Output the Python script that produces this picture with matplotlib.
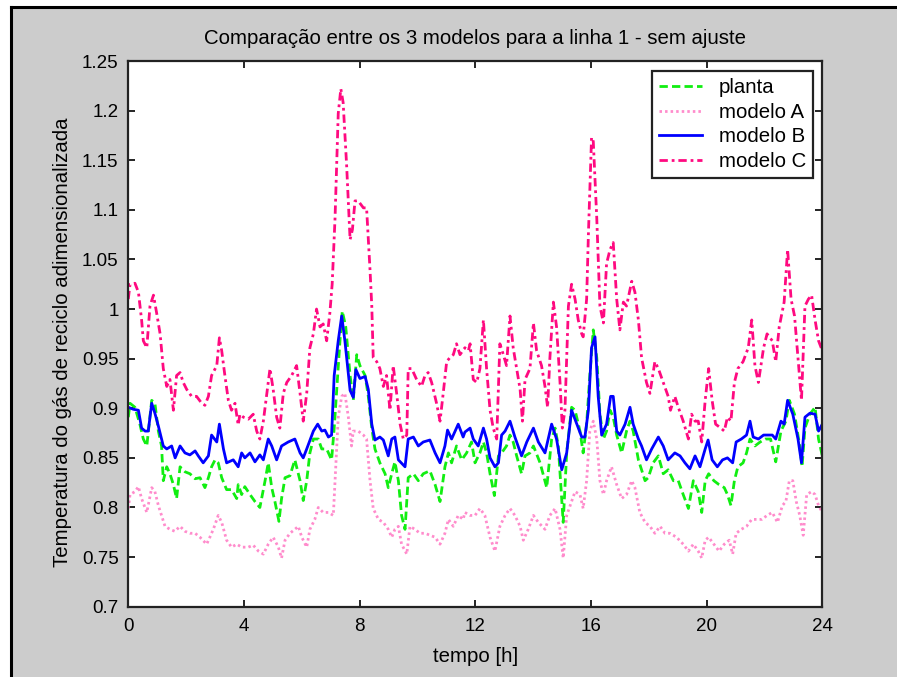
import matplotlib
matplotlib.use("Agg")
import matplotlib.pyplot as plt
from matplotlib.patches import Rectangle
from matplotlib.lines import Line2D

plt.rcParams['font.family'] = ['Liberation Sans', 'DejaVu Sans']

# ---------------- data ----------------
t_planta = [0.0, 0.06, 0.23, 0.40, 0.52, 0.64, 0.81, 0.92, 1.04, 1.15, 1.21, 1.33, 1.44, 1.56, 1.67, 1.79,
            1.96, 2.13, 2.31, 2.48, 2.65, 2.77, 2.88, 3.00, 3.11, 3.23, 3.40, 3.57, 3.75, 3.80, 3.92, 4.03,
            4.21, 4.38, 4.55, 4.73, 4.84, 4.96, 5.07, 5.21, 5.30, 5.42, 5.59, 5.76, 5.94, 6.05, 6.17, 6.28,
            6.40, 6.57, 6.69, 6.86, 7.03, 7.12, 7.20, 7.32, 7.40, 7.52, 7.67, 7.78, 7.90, 8.01, 8.19, 8.30,
            8.42, 8.53, 8.70, 8.88, 8.99, 9.11, 9.22, 9.34, 9.45, 9.57, 9.68, 9.86, 10.03, 10.20, 10.43,
            10.61, 10.78, 10.95, 11.07, 11.18, 11.35, 11.53, 11.70, 11.76, 11.87, 11.99, 12.16, 12.28,
            12.39, 12.51, 12.66, 12.80, 12.91, 13.08, 13.20, 13.31, 13.43, 13.60, 13.72, 13.89, 14.01,
            14.24, 14.47, 14.64, 14.76, 14.87, 15.04, 15.16, 15.33, 15.45, 15.62, 15.73, 15.85, 15.96,
            16.08, 16.20, 16.31, 16.43, 16.54, 16.66, 16.77, 16.89, 17.06, 17.23, 17.35, 17.46, 17.64,
            17.75, 17.87, 17.98, 18.15, 18.33, 18.50, 18.67, 18.85, 19.02, 19.19, 19.37, 19.54, 19.71,
            19.83, 19.95, 20.07, 20.25, 20.43, 20.61, 20.72, 20.84, 20.96, 21.08, 21.26, 21.38, 21.50,
            21.67, 21.85, 22.03, 22.21, 22.39, 22.57, 22.74, 22.86, 23.04, 23.22, 23.30, 23.40, 23.57,
            23.75, 23.87, 24.0]
v_planta = [0.891, 0.905, 0.901, 0.884, 0.869, 0.862, 0.908, 0.905, 0.877, 0.862, 0.827, 0.841, 0.834,
            0.823, 0.809, 0.841, 0.836, 0.834, 0.829, 0.830, 0.820, 0.830, 0.841, 0.848, 0.845, 0.830,
            0.818, 0.818, 0.809, 0.823, 0.813, 0.821, 0.813, 0.806, 0.800, 0.827, 0.845, 0.820, 0.806,
            0.786, 0.809, 0.830, 0.832, 0.848, 0.827, 0.807, 0.827, 0.855, 0.869, 0.869, 0.859, 0.859,
            0.848, 0.880, 0.915, 0.968, 0.998, 0.982, 0.933, 0.908, 0.954, 0.943, 0.933, 0.912, 0.880,
            0.859, 0.845, 0.834, 0.820, 0.834, 0.846, 0.827, 0.792, 0.778, 0.830, 0.834, 0.827, 0.834,
            0.837, 0.823, 0.806, 0.841, 0.855, 0.845, 0.862, 0.848, 0.855, 0.859, 0.866, 0.845, 0.855,
            0.866, 0.855, 0.834, 0.812, 0.852, 0.855, 0.862, 0.873, 0.866, 0.852, 0.834, 0.852, 0.855,
            0.862, 0.845, 0.820, 0.869, 0.880, 0.862, 0.785, 0.855, 0.901, 0.898, 0.877, 0.855, 0.884,
            0.933, 0.979, 0.951, 0.894, 0.869, 0.877, 0.898, 0.891, 0.873, 0.855, 0.877, 0.887, 0.877,
            0.848, 0.838, 0.827, 0.830, 0.845, 0.852, 0.834, 0.838, 0.827, 0.827, 0.813, 0.799, 0.827,
            0.816, 0.795, 0.827, 0.834, 0.827, 0.823, 0.820, 0.813, 0.802, 0.827, 0.841, 0.845, 0.855,
            0.869, 0.862, 0.866, 0.869, 0.869, 0.846, 0.877, 0.887, 0.908, 0.894, 0.862, 0.841, 0.880,
            0.894, 0.901, 0.869, 0.852]

t_modelo_a = [0.0, 0.06, 0.23, 0.35, 0.46, 0.64, 0.81, 0.92, 1.04, 1.15, 1.27, 1.44, 1.61, 1.79, 1.96,
              2.13, 2.31, 2.48, 2.71, 2.82, 2.94, 3.11, 3.23, 3.40, 3.57, 3.75, 3.92, 4.15, 4.32, 4.50,
              4.67, 4.84, 5.01, 5.19, 5.30, 5.42, 5.59, 5.76, 5.88, 6.00, 6.17, 6.28, 6.45, 6.57, 6.74,
              6.92, 7.09, 7.15, 7.26, 7.38, 7.49, 7.61, 7.72, 7.78, 7.95, 8.13, 8.24, 8.36, 8.47, 8.65,
              8.82, 8.99, 9.11, 9.22, 9.34, 9.45, 9.63, 9.74, 9.91, 10.09, 10.26, 10.43, 10.61, 10.78,
              10.95, 11.07, 11.24, 11.41, 11.58, 11.64, 11.82, 11.99, 12.16, 12.33, 12.51, 12.68, 12.85,
              13.03, 13.20, 13.37, 13.55, 13.66, 13.83, 14.01, 14.18, 14.41, 14.58, 14.76, 14.93, 15.04,
              15.16, 15.33, 15.45, 15.62, 15.73, 15.85, 15.96, 16.08, 16.20, 16.31, 16.43, 16.54, 16.71,
              16.89, 17.06, 17.23, 17.41, 17.52, 17.69, 17.87, 18.04, 18.21, 18.39, 18.56, 18.73, 18.96,
              19.19, 19.37, 19.54, 19.71, 19.83, 19.95, 20.07, 20.25, 20.43, 20.61, 20.78, 20.90, 21.02,
              21.20, 21.38, 21.56, 21.73, 21.91, 22.09, 22.27, 22.45, 22.62, 22.74, 22.86, 22.98, 23.10,
              23.22, 23.34, 23.46, 23.63, 23.75, 23.87, 24.0]
v_modelo_a = [0.799, 0.813, 0.816, 0.821, 0.809, 0.795, 0.820, 0.816, 0.802, 0.792, 0.781, 0.778, 0.776,
              0.781, 0.776, 0.774, 0.774, 0.770, 0.763, 0.770, 0.778, 0.792, 0.785, 0.767, 0.760, 0.763,
              0.760, 0.760, 0.762, 0.756, 0.753, 0.763, 0.770, 0.760, 0.749, 0.767, 0.774, 0.778, 0.781,
              0.770, 0.760, 0.778, 0.788, 0.800, 0.795, 0.795, 0.792, 0.827, 0.891, 0.912, 0.915, 0.891,
              0.862, 0.877, 0.877, 0.873, 0.869, 0.827, 0.799, 0.788, 0.785, 0.778, 0.770, 0.778, 0.781,
              0.763, 0.753, 0.781, 0.778, 0.774, 0.774, 0.772, 0.770, 0.763, 0.774, 0.788, 0.781, 0.792,
              0.788, 0.795, 0.792, 0.792, 0.799, 0.792, 0.770, 0.756, 0.781, 0.792, 0.799, 0.792, 0.781,
              0.767, 0.778, 0.792, 0.785, 0.778, 0.792, 0.799, 0.778, 0.749, 0.792, 0.806, 0.816, 0.813,
              0.799, 0.827, 0.877, 0.887, 0.869, 0.827, 0.813, 0.827, 0.841, 0.823, 0.809, 0.813, 0.827,
              0.820, 0.795, 0.785, 0.781, 0.774, 0.781, 0.774, 0.774, 0.770, 0.763, 0.756, 0.763, 0.756,
              0.749, 0.767, 0.770, 0.763, 0.756, 0.763, 0.767, 0.753, 0.774, 0.778, 0.781, 0.788, 0.788,
              0.788, 0.792, 0.795, 0.785, 0.802, 0.806, 0.827, 0.827, 0.806, 0.792, 0.772, 0.813, 0.816,
              0.813, 0.802, 0.795]

t_modelo_b = [0.0, 0.17, 0.35, 0.46, 0.58, 0.69, 0.81, 0.92, 1.04, 1.21, 1.33, 1.50, 1.62, 1.79, 1.96,
              2.13, 2.31, 2.42, 2.59, 2.77, 2.88, 3.06, 3.15, 3.29, 3.40, 3.63, 3.80, 3.92, 4.03, 4.21,
              4.38, 4.55, 4.67, 4.84, 4.96, 5.13, 5.30, 5.53, 5.76, 5.94, 6.05, 6.17, 6.40, 6.55, 6.69,
              6.80, 6.92, 7.03, 7.12, 7.26, 7.38, 7.49, 7.67, 7.78, 7.87, 8.01, 8.19, 8.30, 8.42, 8.53,
              8.70, 8.82, 8.99, 9.11, 9.22, 9.34, 9.57, 9.68, 9.86, 10.03, 10.20, 10.43, 10.61, 10.78,
              10.95, 11.04, 11.18, 11.41, 11.58, 11.64, 11.82, 11.93, 12.10, 12.28, 12.39, 12.51, 12.68,
              12.80, 12.91, 13.03, 13.20, 13.37, 13.60, 13.78, 14.01, 14.18, 14.41, 14.64, 14.81, 14.99,
              15.16, 15.33, 15.51, 15.68, 15.79, 15.91, 16.02, 16.14, 16.25, 16.37, 16.54, 16.68, 16.77,
              16.89, 17.00, 17.18, 17.35, 17.46, 17.64, 17.75, 17.92, 18.10, 18.33, 18.50, 18.67, 18.90,
              19.08, 19.25, 19.42, 19.60, 19.77, 19.95, 20.05, 20.19, 20.37, 20.55, 20.72, 20.90, 21.02,
              21.20, 21.38, 21.50, 21.61, 21.79, 21.97, 22.27, 22.39, 22.57, 22.68, 22.80, 22.98, 23.16,
              23.28, 23.40, 23.57, 23.75, 23.87, 24.0]
v_modelo_b = [0.901, 0.899, 0.898, 0.880, 0.877, 0.877, 0.905, 0.895, 0.882, 0.862, 0.859, 0.862, 0.850,
              0.862, 0.855, 0.853, 0.857, 0.852, 0.845, 0.852, 0.873, 0.866, 0.884, 0.859, 0.845, 0.848,
              0.841, 0.855, 0.850, 0.855, 0.846, 0.853, 0.848, 0.869, 0.862, 0.848, 0.862, 0.866, 0.869,
              0.855, 0.850, 0.859, 0.877, 0.884, 0.877, 0.878, 0.871, 0.873, 0.933, 0.968, 0.993, 0.968,
              0.918, 0.911, 0.939, 0.930, 0.932, 0.919, 0.884, 0.868, 0.871, 0.868, 0.852, 0.869, 0.871,
              0.848, 0.841, 0.869, 0.871, 0.862, 0.866, 0.868, 0.855, 0.845, 0.862, 0.878, 0.869, 0.884,
              0.871, 0.876, 0.880, 0.869, 0.862, 0.880, 0.869, 0.850, 0.841, 0.845, 0.873, 0.877, 0.887,
              0.871, 0.852, 0.866, 0.880, 0.866, 0.855, 0.884, 0.869, 0.838, 0.855, 0.898, 0.884, 0.871,
              0.871, 0.898, 0.961, 0.972, 0.912, 0.873, 0.884, 0.912, 0.912, 0.877, 0.873, 0.884, 0.901,
              0.884, 0.869, 0.862, 0.848, 0.859, 0.871, 0.862, 0.848, 0.855, 0.852, 0.845, 0.839, 0.852,
              0.841, 0.859, 0.868, 0.848, 0.841, 0.848, 0.850, 0.845, 0.866, 0.869, 0.873, 0.887, 0.871,
              0.869, 0.873, 0.873, 0.869, 0.887, 0.884, 0.908, 0.894, 0.869, 0.845, 0.891, 0.895, 0.894,
              0.877, 0.884]

t_modelo_c = [0.0, 0.06, 0.23, 0.35, 0.46, 0.52, 0.64, 0.75, 0.87, 0.98, 1.10, 1.21, 1.33, 1.44, 1.56,
              1.67, 1.79, 1.90, 2.02, 2.19, 2.36, 2.54, 2.65, 2.77, 2.88, 3.06, 3.15, 3.23, 3.34, 3.46,
              3.57, 3.69, 3.80, 3.86, 3.98, 4.15, 4.32, 4.44, 4.55, 4.67, 4.78, 4.90, 5.01, 5.13, 5.24,
              5.36, 5.48, 5.65, 5.82, 5.94, 6.05, 6.17, 6.28, 6.40, 6.51, 6.63, 6.74, 6.86, 6.97, 7.05,
              7.15, 7.26, 7.35, 7.43, 7.55, 7.67, 7.75, 7.84, 7.95, 8.13, 8.24, 8.36, 8.42, 8.47, 8.59,
              8.70, 8.82, 8.93, 9.05, 9.16, 9.28, 9.40, 9.51, 9.63, 9.68, 9.80, 9.97, 10.14, 10.26, 10.37,
              10.49, 10.66, 10.78, 10.89, 11.01, 11.12, 11.24, 11.35, 11.47, 11.64, 11.76, 11.82, 11.93,
              12.05, 12.16, 12.28, 12.39, 12.51, 12.62, 12.74, 12.85, 12.97, 13.08, 13.20, 13.31, 13.43,
              13.55, 13.63, 13.72, 13.89, 14.01, 14.12, 14.29, 14.41, 14.50, 14.58, 14.70, 14.81, 14.93,
              15.01, 15.10, 15.22, 15.33, 15.45, 15.56, 15.68, 15.73, 15.85, 15.91, 16.02, 16.08, 16.20,
              16.31, 16.43, 16.54, 16.66, 16.77, 16.89, 17.00, 17.12, 17.23, 17.41, 17.52, 17.64, 17.75,
              17.92, 18.04, 18.21, 18.33, 18.50, 18.67, 18.75, 18.90, 19.02, 19.19, 19.37, 19.48, 19.60,
              19.71, 19.83, 19.95, 20.07, 20.19, 20.31, 20.49, 20.61, 20.72, 20.84, 20.96, 21.08, 21.26,
              21.44, 21.56, 21.67, 21.79, 21.97, 22.09, 22.27, 22.39, 22.51, 22.68, 22.80, 22.92, 23.04,
              23.16, 23.28, 23.40, 23.52, 23.63, 23.75, 23.87, 24.0]
v_modelo_c = [1.010, 1.025, 1.026, 1.017, 0.989, 0.968, 0.961, 1.003, 1.014, 0.996, 0.975, 0.940, 0.922,
              0.929, 0.898, 0.933, 0.936, 0.926, 0.919, 0.912, 0.912, 0.905, 0.903, 0.912, 0.933, 0.943,
              0.971, 0.958, 0.933, 0.908, 0.898, 0.905, 0.883, 0.894, 0.891, 0.889, 0.894, 0.877, 0.869,
              0.887, 0.912, 0.940, 0.919, 0.891, 0.880, 0.915, 0.926, 0.933, 0.943, 0.915, 0.887, 0.915,
              0.961, 0.975, 1.000, 0.982, 0.985, 0.968, 0.996, 1.025, 1.092, 1.197, 1.222, 1.208, 1.145,
              1.070, 1.080, 1.109, 1.109, 1.102, 1.102, 1.039, 1.003, 0.951, 0.947, 0.940, 0.922, 0.933,
              0.898, 0.943, 0.915, 0.884, 0.869, 0.873, 0.940, 0.940, 0.929, 0.922, 0.933, 0.936, 0.926,
              0.905, 0.887, 0.915, 0.947, 0.951, 0.954, 0.965, 0.954, 0.961, 0.958, 0.965, 0.929, 0.926,
              0.940, 0.989, 0.940, 0.898, 0.880, 0.869, 0.965, 0.954, 0.943, 0.993, 0.961, 0.940, 0.919,
              0.887, 0.929, 0.940, 0.986, 0.958, 0.943, 0.922, 0.901, 0.951, 1.007, 0.982, 0.926, 0.880,
              0.898, 1.003, 1.025, 1.010, 0.989, 0.975, 0.972, 1.010, 1.074, 1.173, 1.169, 1.092, 1.003,
              0.986, 1.046, 1.060, 1.067, 1.010, 0.979, 1.007, 1.003, 1.028, 1.017, 0.989, 0.951, 0.926,
              0.915, 0.947, 0.940, 0.926, 0.912, 0.898, 0.912, 0.901, 0.887, 0.869, 0.894, 0.887, 0.887,
              0.866, 0.908, 0.940, 0.908, 0.884, 0.880, 0.877, 0.891, 0.887, 0.926, 0.940, 0.947, 0.961,
              0.989, 0.943, 0.926, 0.961, 0.975, 0.968, 0.947, 0.982, 1.007, 1.060, 1.010, 0.993, 0.951,
              0.908, 1.003, 1.010, 1.014, 0.989, 0.968, 0.958]

series_labels = ['planta', 'modelo A', 'modelo B', 'modelo C']
x_ticks = [0, 4, 8, 12, 16, 20, 24]
y_ticks = [0.7, 0.75, 0.8, 0.85, 0.9, 0.95, 1.0, 1.05, 1.1, 1.15, 1.2, 1.25]
y_tick_labels = ['0.7', '0.75', '0.8', '0.85', '0.9', '0.95', '1', '1.05', '1.1', '1.15', '1.2', '1.25']
title = 'Comparação entre os 3 modelos para a linha 1 - sem ajuste'
x_label = 'tempo [h]'
y_label = 'Temperatura do gás de reciclo adimensionalizada'

# ---------------- figure ----------------
W, H = 897, 677
fig = plt.figure(figsize=(W / 100, H / 100), dpi=100, facecolor='white')

# grey window area with black frame on left and top
fig.add_artist(Rectangle((11 / W, 0), 1 - 11 / W, 1 - 7 / H, transform=fig.transFigure,
                         facecolor='#cccccc', edgecolor='none', zorder=-10))
fig.add_artist(Line2D([11 / W, 11 / W], [0, 1 - 7 / H], transform=fig.transFigure,
                      color='black', linewidth=2.2))
fig.add_artist(Line2D([11 / W, 1], [1 - 7 / H, 1 - 7 / H], transform=fig.transFigure,
                      color='black', linewidth=2.2))

ax_l, ax_r, ax_t, ax_b = 128.3, 822.3, 61.0, 606.7
ax = fig.add_axes([ax_l / W, (H - ax_b) / H, (ax_r - ax_l) / W, (ax_b - ax_t) / H])
ax.set_facecolor('white')

lw = 2.0
ax.plot(t_planta, v_planta, color='#11ee11', linewidth=lw, linestyle=(0, (3.0, 1.5)),
        label=series_labels[0])
ax.plot(t_modelo_a, v_modelo_a, color='#ff8ccc', linewidth=lw, linestyle=(0, (0.9, 1.1)),
        label=series_labels[1])
ax.plot(t_modelo_b, v_modelo_b, color='#0000ff', linewidth=lw, linestyle='-',
        label=series_labels[2])
ax.plot(t_modelo_c, v_modelo_c, color='#ff0a80', linewidth=lw, linestyle=(0, (3.0, 1.4, 1.0, 1.4)),
        label=series_labels[3])

ax.set_xlim(0, 24)
ax.set_ylim(0.7, 1.25)
ax.set_xticks(x_ticks)
ax.set_xticklabels([str(v) for v in x_ticks])
ax.set_yticks(y_ticks)
ax.set_yticklabels(y_tick_labels)

fs_tick = 13.5
fs_text = 14.7
ax.tick_params(axis='both', which='both', direction='in', length=5, width=1.2,
               top=True, right=True, labelsize=fs_tick, colors='black')
ax.tick_params(axis='x', pad=8)
ax.tick_params(axis='y', pad=7)
for s in ax.spines.values():
    s.set_linewidth(1.6)
    s.set_color('#222222')

ax.set_title(title, fontsize=fs_text, pad=12.5)
ax.set_xlabel(x_label, fontsize=fs_text)
ax.set_ylabel(y_label, fontsize=fs_text)
ax.xaxis.set_label_coords(0.5, (ax_b - 647) / (ax_b - ax_t))
ax.yaxis.set_label_coords((72 - ax_l) / (ax_r - ax_l), (ax_b - 342) / (ax_b - ax_t))

leg = ax.legend(loc='upper right', bbox_to_anchor=((813 - ax_l) / (ax_r - ax_l), (ax_b - 71) / (ax_b - ax_t)),
                borderaxespad=0, fontsize=fs_text, frameon=True, fancybox=False, framealpha=1,
                edgecolor='#222222', handlelength=2.1, handletextpad=0.8, labelspacing=0.27,
                borderpad=0.35)
leg.get_frame().set_linewidth(1.6)

fig.savefig('out.png', dpi=100, facecolor=fig.get_facecolor())
